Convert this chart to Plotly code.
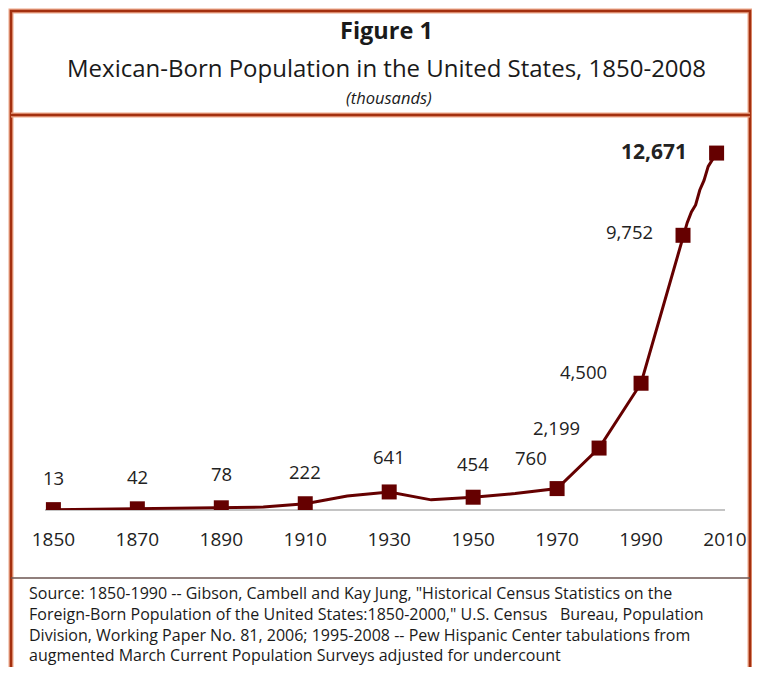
import plotly.graph_objects as go

# ---- data ----
line_years = [1850, 1860, 1870, 1880, 1890, 1900, 1910, 1920, 1930, 1940, 1950, 1960,
              1970, 1980, 1990, 2000, 2001, 2002, 2003, 2004, 2005, 2006, 2007, 2008]
line_values = [13, 27, 42, 68, 78, 104, 222, 500, 641, 360, 454, 585,
               760, 2199, 4500, 9752, 10200, 10580, 10830, 11360, 11700, 12200, 12450, 12671]

marker_years = [1850, 1870, 1890, 1910, 1930, 1950, 1970, 1980, 1990, 2000, 2008]
marker_values = [13, 42, 78, 222, 641, 454, 760, 2199, 4500, 9752, 12671]
marker_labels = ["13", "42", "78", "222", "641", "454", "760", "2,199", "4,500", "9,752", "12,671"]

tick_years = [1850, 1870, 1890, 1910, 1930, 1950, 1970, 1990, 2010]
tick_labels = ["1850", "1870", "1890", "1910", "1930", "1950", "1970", "1990", "2010"]

# label placement (pixel offsets from each marker)
label_dx = [0, 0, 0, 0, 0, 0, -26, -43, -58, -54, -63]
label_dy = [32, 32, 34, 32, 35, 34, 31, 21, 12, 4, 2]
label_bold = [False] * 10 + [True]

# page body has an 8px margin on every side
OFF = 8
W, H = 760 - 2 * OFF, 675 - 2 * OFF
PL, PR, PT, PB = 45, 725, 130, 510          # plot area in window pixels
L, R, T, B = PL - OFF, (OFF + W) - PR, PT - OFF, (OFF + H) - PB
PW, PH = PR - PL, PB - PT
FONT = "Open Sans"
LINE_COL = "#650000"
FRAME_COL = "#A3300F"


def px(x):
    return (x - PL) / PW


def py(y):
    return (PB - y) / PH


fig = go.Figure()
fig.add_trace(go.Scatter(x=line_years, y=line_values, mode="lines",
                         line=dict(color=LINE_COL, width=3), hoverinfo="skip",
                         showlegend=False))
fig.add_trace(go.Scatter(x=marker_years, y=marker_values, mode="markers",
                         marker=dict(symbol="square", size=15, color=LINE_COL),
                         showlegend=False))

for yr, v, lab, dx, dy, b in zip(marker_years, marker_values, marker_labels,
                                 label_dx, label_dy, label_bold):
    fig.add_annotation(x=yr, y=v, text=f"<b>{lab}</b>" if b else lab, showarrow=False,
                       xshift=dx, yshift=dy, xanchor="center", yanchor="middle",
                       font=dict(family=FONT, size=21 if b else 18.5, color="#222"))


def txt(x, y, text, size, anchor="center"):
    fig.add_annotation(xref="paper", yref="paper", x=px(x), y=py(y), text=text,
                       xanchor=anchor, yanchor="middle", showarrow=False,
                       font=dict(family=FONT, size=size, color="#1a1a1a"))


txt(386, 30, "<b>Figure 1</b>", 23.5)
txt(386, 68, "Mexican-Born Population in the United States, 1850-2008", 24)
txt(389, 97, "<i>(thousands)</i>", 16.5)

source_lines = [
    "Source: 1850-1990 -- Gibson, Cambell and Kay Jung, \"Historical Census Statistics on the",
    "Foreign-Born Population of the United States:1850-2000,\" U.S. Census   Bureau, Population",
    "Division, Working Paper No. 81, 2006; 1995-2008 -- Pew Hispanic Center tabulations from",
    "augmented March Current Population Surveys adjusted for undercount",
]
for i, s in enumerate(source_lines):
    txt(27, 593 + 20.8 * i, s, 16, anchor="left")

# frame
FR_R = 750
for col, w in [("#EBA588", 5), (FRAME_COL, 2.5)]:
    fig.add_shape(type="rect", xref="paper", yref="paper", x0=px(11), x1=px(FR_R),
                  y0=py(700), y1=py(11), line=dict(color=col, width=w), layer="below")
    fig.add_shape(type="line", xref="paper", yref="paper", x0=px(11), x1=px(FR_R),
                  y0=py(115), y1=py(115), line=dict(color=col, width=w))
fig.add_shape(type="line", xref="paper", yref="paper", x0=px(11), x1=px(FR_R),
              y0=py(578), y1=py(578), line=dict(color="#6b5550", width=1.5))

fig.update_layout(
    width=W, height=H, margin=dict(l=L, r=R, t=T, b=B, pad=0, autoexpand=False),
    plot_bgcolor="white", paper_bgcolor="white",
    xaxis=dict(range=[1848, 2010], tickvals=tick_years, ticktext=tick_labels,
               showgrid=False, zeroline=False, showline=False, ticks="",
               ticklabelstandoff=16, automargin=False,
               tickfont=dict(family=FONT, size=19, color="#222")),
    yaxis=dict(range=[0, 13490], showgrid=False, showticklabels=False,
               zeroline=True, zerolinecolor="#c4c4c4", zerolinewidth=2,
               automargin=False),
)

fig.write_html("out.html")
